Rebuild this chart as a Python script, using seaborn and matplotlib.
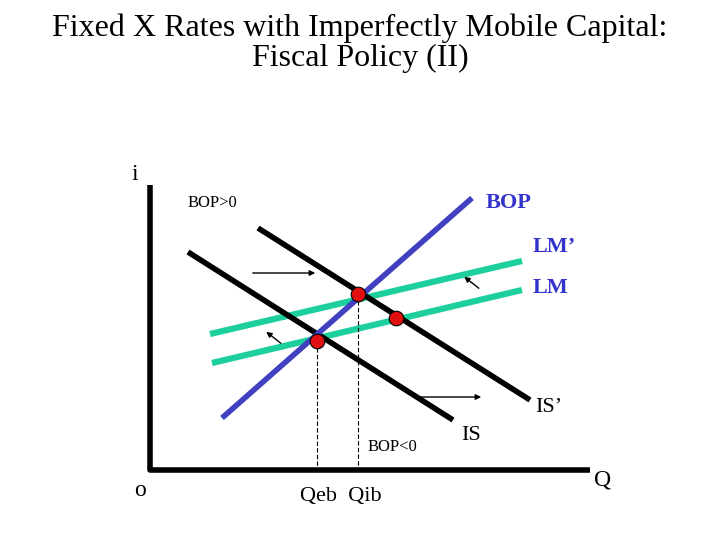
import matplotlib
matplotlib.use("Agg")
import matplotlib.pyplot as plt
import seaborn as sns

sns.set_theme(style="white")
plt.rcParams['font.family'] = ['Liberation Serif', 'DejaVu Serif']
plt.rcParams['text.color'] = 'black'

# diagram coordinates (schematic units, y downward)
bop_x, bop_y = [222, 472], [418, 198]
is_x, is_y = [188, 453], [252, 420]
is2_x, is2_y = [258, 530], [228, 400]
lm2_x, lm2_y = [210, 522], [334, 261]
lm_x, lm_y = [212, 522], [363, 290]
eq_x, eq_y = [358, 396, 317], [294, 318, 341]

fig = plt.figure(figsize=(7.2, 5.4), dpi=100)
ax = fig.add_axes([0, 0, 1, 1])
ax.set_xlim(0, 720); ax.set_ylim(540, 0); ax.axis('off')

ax.plot([150, 150, 590], [185, 470, 470], color='black', lw=4, solid_capstyle='butt')

kw = dict(solid_capstyle='butt')
sns.lineplot(x=lm2_x, y=lm2_y, ax=ax, color='#1ccf9c', lw=4.5, **kw)
sns.lineplot(x=lm_x, y=lm_y, ax=ax, color='#1ccf9c', lw=4.5, **kw)
sns.lineplot(x=is_x, y=is_y, ax=ax, color='black', lw=4, **kw)
sns.lineplot(x=is2_x, y=is2_y, ax=ax, color='black', lw=4, **kw)
sns.lineplot(x=bop_x, y=bop_y, ax=ax, color='#4040c0', lw=4, **kw)

for xv, yv in [(eq_x[2], eq_y[2]), (eq_x[0], eq_y[0])]:
    ax.plot([xv, xv], [yv, 470], color='black', lw=0.8, ls=(0, (4, 2)))
sns.scatterplot(x=eq_x, y=eq_y, ax=ax, color='#e01010', s=110, edgecolor='black', linewidth=0.8, zorder=5)

arr = dict(arrowstyle='-|>', color='black', lw=1, mutation_scale=8)
ax.annotate('', xy=(318, 273), xytext=(250, 273), arrowprops=arr)
ax.annotate('', xy=(484, 397), xytext=(415, 397), arrowprops=arr)
ax.annotate('', xy=(462, 275), xytext=(481, 290), arrowprops=arr)
ax.annotate('', xy=(264, 330), xytext=(283, 345), arrowprops=arr)

fig.text(0.5, 0.975, "Fixed X Rates with Imperfectly Mobile Capital:\nFiscal Policy (II)",
         ha='center', va='top', fontsize=23, linespacing=1.05)
ax.text(135, 175, 'i', fontsize=17, ha='center', va='center')
ax.text(140, 490, 'o', fontsize=17, ha='center', va='center')
ax.text(603, 480, 'Q', fontsize=17, ha='center', va='center')
ax.text(188, 203, 'BOP>0', fontsize=12, va='center')
ax.text(486, 203, 'BOP', fontsize=16, va='center', color='#3333cc', fontweight='bold')
ax.text(533, 247, 'LM’', fontsize=16, va='center', color='#3333cc', fontweight='bold')
ax.text(533, 288, 'LM', fontsize=16, va='center', color='#3333cc', fontweight='bold')
ax.text(535, 407, 'IS’', fontsize=16, va='center')
ax.text(461, 436, 'IS', fontsize=16, va='center')
ax.text(368, 447, 'BOP<0', fontsize=12, va='center')
ax.text(300, 497, 'Qeb  Qib', fontsize=16, va='center')

fig.savefig('out.png', dpi=100)
